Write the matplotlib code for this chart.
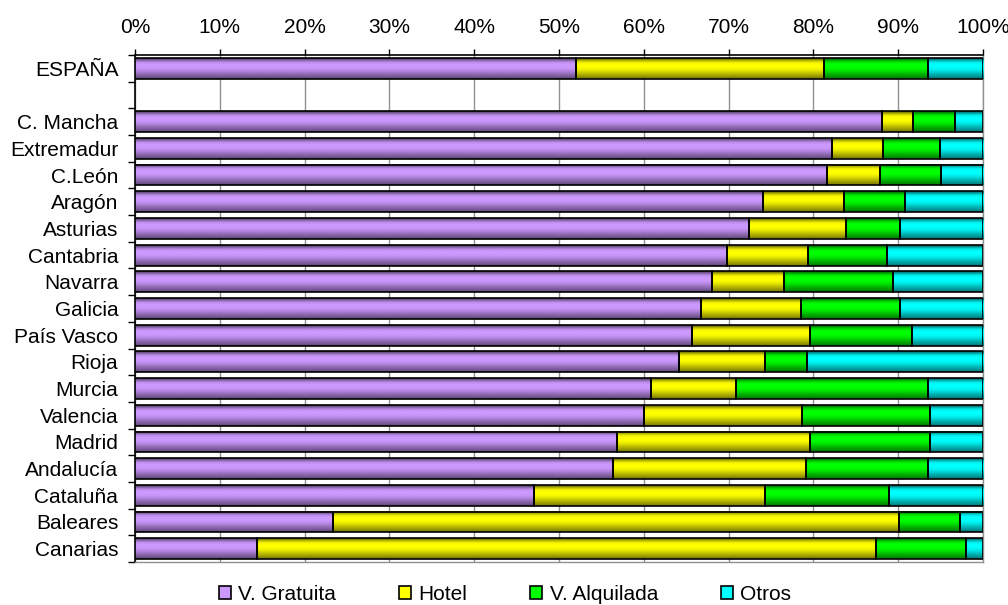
import numpy as np
import matplotlib
matplotlib.use("Agg")
import matplotlib.pyplot as plt
from matplotlib.patches import Patch
from matplotlib.colors import to_rgb
from matplotlib.ticker import FixedLocator, PercentFormatter

plt.rcParams['font.family'] = ['Liberation Sans', 'DejaVu Sans']

categories = ["ESPAÑA", "", "C. Mancha", "Extremadur", "C.León", "Aragón", "Asturias",
              "Cantabria", "Navarra", "Galicia", "País Vasco", "Rioja", "Murcia",
              "Valencia", "Madrid", "Andalucía", "Cataluña", "Baleares", "Canarias"]
series_names = ["V. Gratuita", "Hotel", "V. Alquilada", "Otros"]

v_gratuita = [52.0, np.nan, 88.1, 82.2, 81.6, 74.1, 72.4, 69.8, 68.0, 66.7, 65.7, 64.2,
              60.8, 60.0, 56.8, 56.4, 47.1, 23.4, 14.4]
hotel = [29.3, np.nan, 3.6, 6.0, 6.3, 9.5, 11.5, 9.6, 8.5, 11.8, 13.9, 10.1,
         10.1, 18.6, 22.8, 22.7, 27.2, 66.7, 73.0]
v_alquilada = [12.2, np.nan, 5.0, 6.7, 7.1, 7.2, 6.3, 9.3, 12.9, 11.7, 12.0, 4.9,
               22.6, 15.2, 14.2, 14.4, 14.6, 7.2, 10.6]
otros = [6.5, np.nan, 3.3, 5.1, 5.0, 9.2, 9.8, 11.3, 10.6, 9.8, 8.4, 20.8,
         6.5, 6.2, 6.2, 6.5, 11.1, 2.7, 2.0]

colors = ["#CC99FF", "#FFFF00", "#00FF00", "#00FFFF"]

fig = plt.figure(figsize=(10.08, 6.05), dpi=100)
ax = fig.add_axes([135/1008, 1-562/605, 848/1008, 507/605])

n = len(categories)
ypos = np.arange(n)[::-1]  # first category at top
series = [v_gratuita, hotel, v_alquilada, otros]
left = np.zeros(n)
bar_h = 0.78

# vertical shading profile (top -> bottom) imitating Excel 3D bars
profile = np.array([0.45, 0.75, 0.95, 1.0, 1.0, 0.97, 0.9, 0.8, 0.7, 0.6, 0.5])

for vals, col, name in zip(series, colors, series_names):
    vals = np.asarray(vals, dtype=float)
    bars = ax.barh(ypos, vals, left=left, height=bar_h, color=col,
                   edgecolor='none', zorder=3)
    base = np.array(to_rgb(col))
    grad = (profile[:, None] * base[None, :])[:, None, :]
    for p in bars:
        x0, y0 = p.get_x(), p.get_y()
        w, h = p.get_width(), p.get_height()
        if not np.isfinite(w) or w <= 0:
            continue
        ax.imshow(grad, extent=(x0, x0 + w, y0, y0 + h), origin='upper',
                  aspect='auto', interpolation='bilinear', zorder=3.5)
    ax.barh(ypos, vals, left=left, height=bar_h, fill=False,
            edgecolor='black', linewidth=1.2, zorder=4)
    left = left + np.nan_to_num(vals)

ax.set_xlim(0, 100)
ax.set_ylim(-0.5, n - 0.5)

fs = 15
ax.xaxis.tick_top()
ax.xaxis.set_major_locator(FixedLocator(np.arange(0, 101, 10)))
ax.xaxis.set_major_formatter(PercentFormatter(decimals=0))
ax.tick_params(axis='x', which='major', direction='out', length=4, width=1,
               pad=9, labelsize=fs, colors='black')

ax.set_yticks(ypos)
ax.set_yticklabels(categories)
ax.set_yticks(np.arange(-0.5, n, 1.0), minor=True)
ax.tick_params(axis='y', which='major', length=0, pad=12, labelsize=fs)
ax.tick_params(axis='y', which='minor', direction='out', length=5, width=1)

ax.grid(axis='x', color='#909090', linewidth=1, zorder=0)
ax.set_axisbelow(True)
for s in ['left', 'top']:
    ax.spines[s].set_color('black')
    ax.spines[s].set_linewidth(1.2)
for s in ['right', 'bottom']:
    ax.spines[s].set_color('#909090')
    ax.spines[s].set_linewidth(1)

handles = [Patch(facecolor=c, edgecolor='black', linewidth=1.2) for c in colors]
fig.legend(handles, series_names, loc='center', bbox_to_anchor=(0.501, 0.018),
           ncol=4, frameon=False, fontsize=fs, handlelength=0.6,
           handleheight=0.6, handletextpad=0.35, columnspacing=3.0)

fig.savefig("out.png", dpi=100)
